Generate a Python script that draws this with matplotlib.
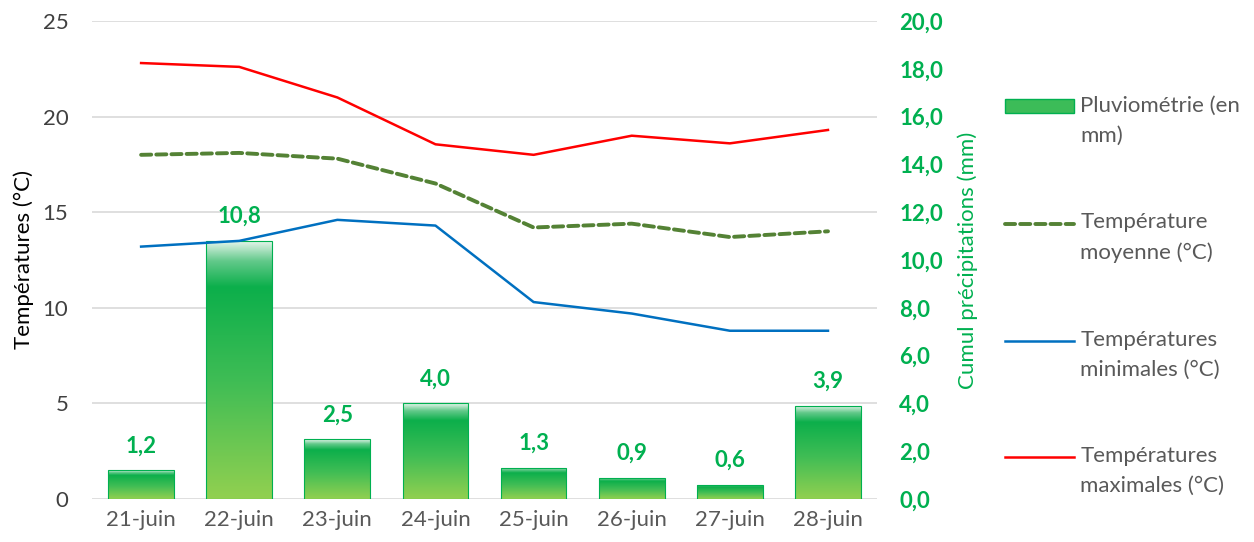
import numpy as np
import matplotlib
matplotlib.use('Agg')
import matplotlib.pyplot as plt
from matplotlib.colors import LinearSegmentedColormap
from matplotlib.patches import Patch
from matplotlib.lines import Line2D

plt.rcParams['font.family'] = ['Lato', 'DejaVu Sans']

# Data
jours = ['21-juin', '22-juin', '23-juin', '24-juin', '25-juin', '26-juin', '27-juin', '28-juin']
pluie = [1.2, 10.8, 2.5, 4.0, 1.3, 0.9, 0.6, 3.9]
t_moy = [18.0, 18.1, 17.8, 16.5, 14.2, 14.4, 13.7, 14.0]
t_min = [13.2, 13.5, 14.6, 14.3, 10.3, 9.7, 8.8, 8.8]
t_max = [22.8, 22.6, 21.0, 18.55, 18.0, 19.0, 18.6, 19.3]

green = '#00b050'
grey_txt = '#595959'
fs = 16
x = np.arange(len(jours))

fig = plt.figure(figsize=(12.54, 5.42), dpi=100)
ax2 = fig.add_axes([0.0734, 0.0793, 0.6260, 0.8820])  # rain axis (behind)
ax = fig.add_axes(ax2.get_position(), sharex=ax2)    # temperature axis (front)
ax.patch.set_visible(False)

# bars with vertical gradient
cmap = LinearSegmentedColormap.from_list('pluvio', [
    (0.0, '#92d050'), (0.45, '#40bd55'), (0.82, '#0caf4b'),
    (0.92, '#62c98a'), (1.0, '#e9f6ee')])
grad = np.linspace(0, 1, 256).reshape(-1, 1)
bars = ax2.bar(x, pluie, width=0.67, facecolor='none', edgecolor=green,
               linewidth=0.8, zorder=3)
for b in bars:
    x0, w, h = b.get_x(), b.get_width(), b.get_height()
    im = ax2.imshow(grad, cmap=cmap, origin='lower', aspect='auto',
                    extent=[x0, x0 + w, 0, h], zorder=2)
    im.set_clip_path(b)
for xi, v in zip(x, pluie):
    ax2.annotate(f'{v:.1f}'.replace('.', ','), (xi, v), xytext=(0, 10),
                 textcoords='offset points', ha='center', va='bottom',
                 color=green, fontsize=fs, fontweight='bold')

rain_ticks = np.arange(0, 21, 2)
ax2.set_xlim(-0.5, 7.5)
ax2.set_ylim(0, 20)
ax2.set_yticks(rain_ticks)
ax2.set_yticklabels([f'{v:.1f}'.replace('.', ',') for v in rain_ticks])
ax2.yaxis.tick_right()
ax2.yaxis.set_label_position('right')
ax2.grid(False)
for s in ax2.spines.values():
    s.set_visible(False)
ax2.tick_params(axis='y', length=0, pad=16, labelsize=fs, labelcolor=green)
for t in ax2.get_yticklabels():
    t.set_fontweight('bold')
ax2.tick_params(axis='x', length=0, pad=8, labelsize=fs, labelcolor=grey_txt)
ax2.set_xticks(x)
ax2.set_xticklabels(jours)
ax2.set_ylabel('Cumul précipitations (mm)', color=green, fontsize=fs, labelpad=10)
# gridlines follow the temperature ticks, drawn behind the bars
for g in np.arange(0, 21, 4):
    ax2.axhline(g, color='#d9d9d9', lw=1.2, zorder=1)

# temperature lines
ax.plot(x, t_max, color='#ff0000', lw=1.8)
ax.plot(x, t_moy, color='#548235', lw=2.8, linestyle=(0, (2.6, 1.3)),
        dash_capstyle='round')
ax.plot(x, t_min, color='#0070c0', lw=1.8)
ax.set_ylim(0, 25)
ax.set_yticks(np.arange(0, 26, 5))
ax.tick_params(axis='y', length=0, pad=17, labelsize=fs, labelcolor='#404040')
ax.tick_params(axis='x', bottom=False, labelbottom=False)
for s in ax.spines.values():
    s.set_visible(False)
ax.set_ylabel('Températures (°C)', fontsize=fs, labelpad=6)

handles = [
    Patch(facecolor='#3cbc58', edgecolor=green),
    Line2D([], [], color='#548235', lw=2.8, linestyle=(0, (2.6, 1.3)), dash_capstyle='round'),
    Line2D([], [], color='#0070c0', lw=1.8),
    Line2D([], [], color='#ff0000', lw=1.8),
]
labels = ['Pluviométrie (en\nmm)', 'Température\nmoyenne (°C)',
          'Températures\nminimales (°C)', 'Températures\nmaximales (°C)']
leg = fig.legend(handles, labels, loc='upper left', bbox_to_anchor=(0.7925, 0.844),
                 frameon=False, fontsize=fs, handlelength=3.1, handleheight=0.6,
                 handletextpad=0.3, labelspacing=3.0, borderpad=0)
for t in leg.get_texts():
    t.set_color(grey_txt)
    t.set_linespacing(1.62)
# put each legend key level with the first text line
dy = 10.5
for h in leg.legend_handles:
    if isinstance(h, Line2D):
        h.set_ydata(np.asarray(h.get_ydata()) + dy)
    else:
        h.set_y(h.get_y() + dy)

fig.savefig('out.png', dpi=100)
